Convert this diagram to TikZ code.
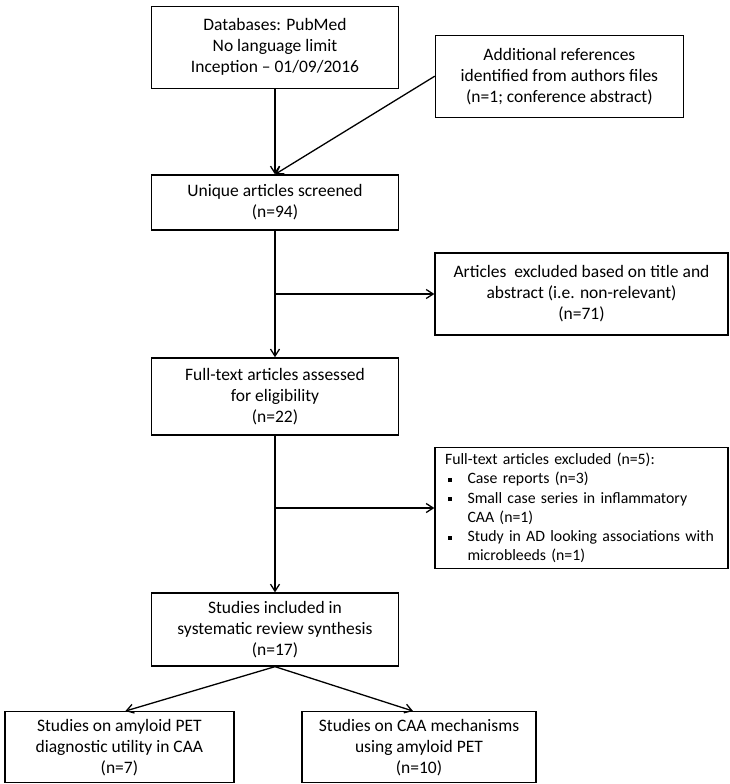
\documentclass[tikz,border=0pt]{standalone}
\usepackage{fontspec}
\setmainfont{Carlito}
\usetikzlibrary{arrows.meta}
\tikzstyle{bx}=[draw=black,line width=1.3pt,align=center,inner sep=3pt,font=\fontsize{17.5}{21}\selectfont]
\tikzstyle{lbx}=[draw=black,line width=1.3pt,align=left,text width=273pt,inner xsep=10pt,font=\fontsize{15.8}{19.2}\selectfont]
\tikzstyle{ar}=[line width=1.3pt,-{Straight Barb[length=7pt,width=9pt]}]
\newcommand{\sqitem}{\par\hangindent=22.5pt\hangafter=1\noindent\makebox[22.5pt][l]{\hspace{3pt}\rule[0.25ex]{4pt}{4pt}}}

\begin{document}
\begin{tikzpicture}[x=1pt,y=-1pt]
\useasboundingbox (0,0) rectangle (729,784);
\node[bx,minimum width=247pt,minimum height=82pt] (db) at (275,47.2) {Databases: PubMed\\ No language limit\\ Inception -- 01/09/2016};
\node[bx,minimum width=248pt,minimum height=82pt] (addref) at (559.4,76.2) {Additional references\\ identified from authors files\\ (n=1; conference abstract)};
\node[bx,minimum width=247pt,minimum height=55pt] (screen) at (275,202.5) {Unique articles screened\\ (n=94)};
\node[bx,minimum width=293pt,minimum height=82pt] (excl) at (581.5,294) {Articles \ excluded based on title and\\ abstract (i.e. non-relevant)\\ (n=71)};
\node[bx,minimum width=247pt,minimum height=77pt] (fulltext) at (275,396.4) {Full-text articles assessed\\ for eligibility\\ (n=22)};
\node[lbx,minimum height=120.6pt] (exclft) at (581.5,508) {Full-text articles excluded (n=5):
\sqitem Case reports (n=3)
\sqitem Small case series in inflammatory\newline CAA (n=1)
\sqitem Study in AD looking associations with\newline microbleeds (n=1)\par};
\node[bx,minimum width=247pt,minimum height=73pt] (incl) at (275,629.5) {Studies included in\\ systematic review synthesis\\ (n=17)};
\node[bx,minimum width=229pt,minimum height=71pt] (diag) at (119.4,747.2) {Studies on amyloid PET\\ diagnostic utility in CAA\\ (n=7)};
\node[bx,minimum width=234pt,minimum height=71pt] (mech) at (419,747.2) {Studies on CAA mechanisms\\ using amyloid PET\\ (n=10)};
% branch points
\coordinate (b1) at (screen.south |- excl.west);
\coordinate (b2) at (fulltext.south |- exclft.west);
\draw[ar] (db) -- (screen);
\draw[ar] (addref.west) -- (screen.north);
\draw[ar] (screen) -- (fulltext);
\draw[ar] (b1) -- (excl.west);
\draw[ar] (fulltext) -- (incl);
\draw[ar] (b2) -- (exclft.west);
\draw[ar] (incl.south) -- ([xshift=6pt]diag.north);
\draw[ar] (incl.south) -- ([xshift=-6pt]mech.north);
\end{tikzpicture}
\end{document}
